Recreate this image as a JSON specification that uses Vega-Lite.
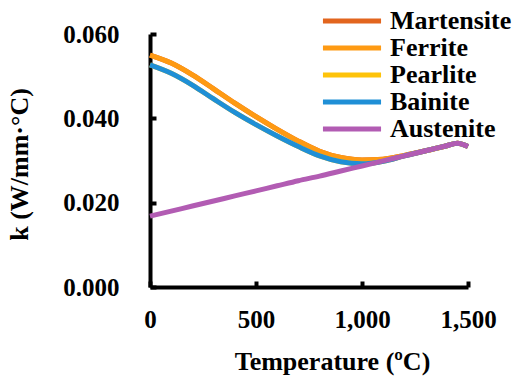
{
  "$schema": "https://vega.github.io/schema/vega-lite/v6.json",
  "width": 318,
  "height": 253,
  "autosize": {"type": "none"},
  "padding": {"left": 150, "top": 34, "right": 48, "bottom": 91},
  "background": "white",
  "config": {
    "view": {"stroke": null},
    "font": "Liberation Serif",
    "axis": {
      "grid": false,
      "domainColor": "black",
      "domainWidth": 4,
      "tickColor": "black",
      "tickWidth": 4,
      "tickSize": -6,
      "labelFlush": false,
      "labelFont": "Liberation Serif",
      "labelFontWeight": "bold",
      "labelFontSize": 25,
      "labelColor": "black",
      "titleFont": "Liberation Serif",
      "titleFontWeight": "bold",
      "titleFontSize": 26,
      "titleColor": "black"
    }
  },
  "data": {
    "values": [
      {"Phase": "Martensite", "T": 0, "k": 0.0550},
      {"Phase": "Martensite", "T": 100, "k": 0.0531},
      {"Phase": "Martensite", "T": 200, "k": 0.0503},
      {"Phase": "Martensite", "T": 300, "k": 0.0470},
      {"Phase": "Martensite", "T": 400, "k": 0.0436},
      {"Phase": "Martensite", "T": 500, "k": 0.0404},
      {"Phase": "Martensite", "T": 600, "k": 0.0374},
      {"Phase": "Martensite", "T": 700, "k": 0.0346},
      {"Phase": "Martensite", "T": 800, "k": 0.0322},
      {"Phase": "Martensite", "T": 900, "k": 0.0307},
      {"Phase": "Martensite", "T": 1000, "k": 0.0301},
      {"Phase": "Martensite", "T": 1100, "k": 0.0303},
      {"Phase": "Martensite", "T": 1200, "k": 0.0312},
      {"Phase": "Martensite", "T": 1300, "k": 0.0323},
      {"Phase": "Martensite", "T": 1400, "k": 0.0335},
      {"Phase": "Martensite", "T": 1450, "k": 0.0341},
      {"Phase": "Martensite", "T": 1500, "k": 0.0333},
      {"Phase": "Ferrite", "T": 0, "k": 0.0550},
      {"Phase": "Ferrite", "T": 100, "k": 0.0531},
      {"Phase": "Ferrite", "T": 200, "k": 0.0503},
      {"Phase": "Ferrite", "T": 300, "k": 0.0470},
      {"Phase": "Ferrite", "T": 400, "k": 0.0436},
      {"Phase": "Ferrite", "T": 500, "k": 0.0404},
      {"Phase": "Ferrite", "T": 600, "k": 0.0374},
      {"Phase": "Ferrite", "T": 700, "k": 0.0346},
      {"Phase": "Ferrite", "T": 800, "k": 0.0322},
      {"Phase": "Ferrite", "T": 900, "k": 0.0307},
      {"Phase": "Ferrite", "T": 1000, "k": 0.0301},
      {"Phase": "Ferrite", "T": 1100, "k": 0.0303},
      {"Phase": "Ferrite", "T": 1200, "k": 0.0312},
      {"Phase": "Ferrite", "T": 1300, "k": 0.0323},
      {"Phase": "Ferrite", "T": 1400, "k": 0.0335},
      {"Phase": "Ferrite", "T": 1450, "k": 0.0341},
      {"Phase": "Ferrite", "T": 1500, "k": 0.0333},
      {"Phase": "Pearlite", "T": 0, "k": 0.0527},
      {"Phase": "Pearlite", "T": 100, "k": 0.0507},
      {"Phase": "Pearlite", "T": 200, "k": 0.0479},
      {"Phase": "Pearlite", "T": 300, "k": 0.0446},
      {"Phase": "Pearlite", "T": 400, "k": 0.0414},
      {"Phase": "Pearlite", "T": 500, "k": 0.0385},
      {"Phase": "Pearlite", "T": 600, "k": 0.0358},
      {"Phase": "Pearlite", "T": 700, "k": 0.0333},
      {"Phase": "Pearlite", "T": 800, "k": 0.0311},
      {"Phase": "Pearlite", "T": 900, "k": 0.0297},
      {"Phase": "Pearlite", "T": 1000, "k": 0.0292},
      {"Phase": "Pearlite", "T": 1100, "k": 0.0298},
      {"Phase": "Pearlite", "T": 1200, "k": 0.0311},
      {"Phase": "Pearlite", "T": 1300, "k": 0.0323},
      {"Phase": "Pearlite", "T": 1400, "k": 0.0335},
      {"Phase": "Pearlite", "T": 1450, "k": 0.0341},
      {"Phase": "Pearlite", "T": 1500, "k": 0.0333},
      {"Phase": "Bainite", "T": 0, "k": 0.0527},
      {"Phase": "Bainite", "T": 100, "k": 0.0507},
      {"Phase": "Bainite", "T": 200, "k": 0.0479},
      {"Phase": "Bainite", "T": 300, "k": 0.0446},
      {"Phase": "Bainite", "T": 400, "k": 0.0414},
      {"Phase": "Bainite", "T": 500, "k": 0.0385},
      {"Phase": "Bainite", "T": 600, "k": 0.0358},
      {"Phase": "Bainite", "T": 700, "k": 0.0333},
      {"Phase": "Bainite", "T": 800, "k": 0.0311},
      {"Phase": "Bainite", "T": 900, "k": 0.0297},
      {"Phase": "Bainite", "T": 1000, "k": 0.0292},
      {"Phase": "Bainite", "T": 1100, "k": 0.0298},
      {"Phase": "Bainite", "T": 1200, "k": 0.0311},
      {"Phase": "Bainite", "T": 1300, "k": 0.0323},
      {"Phase": "Bainite", "T": 1400, "k": 0.0335},
      {"Phase": "Bainite", "T": 1450, "k": 0.0341},
      {"Phase": "Bainite", "T": 1500, "k": 0.0333},
      {"Phase": "Austenite", "T": 0, "k": 0.0168},
      {"Phase": "Austenite", "T": 100, "k": 0.0180},
      {"Phase": "Austenite", "T": 200, "k": 0.0192},
      {"Phase": "Austenite", "T": 300, "k": 0.0204},
      {"Phase": "Austenite", "T": 400, "k": 0.0216},
      {"Phase": "Austenite", "T": 500, "k": 0.0228},
      {"Phase": "Austenite", "T": 600, "k": 0.0240},
      {"Phase": "Austenite", "T": 700, "k": 0.0252},
      {"Phase": "Austenite", "T": 800, "k": 0.0263},
      {"Phase": "Austenite", "T": 900, "k": 0.0275},
      {"Phase": "Austenite", "T": 1000, "k": 0.0287},
      {"Phase": "Austenite", "T": 1100, "k": 0.0299},
      {"Phase": "Austenite", "T": 1200, "k": 0.0311},
      {"Phase": "Austenite", "T": 1300, "k": 0.0323},
      {"Phase": "Austenite", "T": 1400, "k": 0.0335},
      {"Phase": "Austenite", "T": 1450, "k": 0.0341},
      {"Phase": "Austenite", "T": 1500, "k": 0.0333}
    ]
  },
  "mark": {"type": "line", "strokeWidth": 5, "interpolate": "monotone", "clip": false},
  "encoding": {
    "x": {
      "field": "T",
      "type": "quantitative",
      "scale": {"domain": [0, 1500], "nice": false, "zero": false},
      "axis": {
        "values": [0, 500, 1000, 1500],
        "format": ",d",
        "labelPadding": 26,
        "title": "Temperature (ºC)",
        "titleX": 182,
        "titleY": 82,
        "titleBaseline": "alphabetic"
      }
    },
    "y": {
      "field": "k",
      "type": "quantitative",
      "scale": {"domain": [0, 0.06], "nice": false},
      "axis": {
        "values": [0, 0.02, 0.04, 0.06],
        "format": ".3f",
        "labelPadding": 37,
        "title": "k (W/mm·°C)",
        "titleX": -123,
        "titleY": 130,
        "titleAngle": -90,
        "titleAlign": "center",
        "titleBaseline": "alphabetic"
      }
    },
    "color": {
      "field": "Phase",
      "type": "nominal",
      "sort": ["Martensite", "Ferrite", "Pearlite", "Bainite", "Austenite"],
      "scale": {
        "domain": ["Martensite", "Ferrite", "Pearlite", "Bainite", "Austenite"],
        "range": ["#E2651E", "#FE9A13", "#FEC30A", "#1F8FD6", "#B25CB3"]
      },
      "legend": {
        "title": null,
        "orient": "none",
        "legendX": 189,
        "legendY": -26,
        "symbolType": "M-4.15,0H4.15",
        "symbolStrokeWidth": 5,
        "symbolSize": 196,
        "labelFont": "Liberation Serif",
        "labelFontWeight": "bold",
        "labelFontSize": 26,
        "labelColor": "black",
        "labelOffset": 25,
        "rowPadding": 1,
        "labelLimit": 300
      }
    }
  }
}
